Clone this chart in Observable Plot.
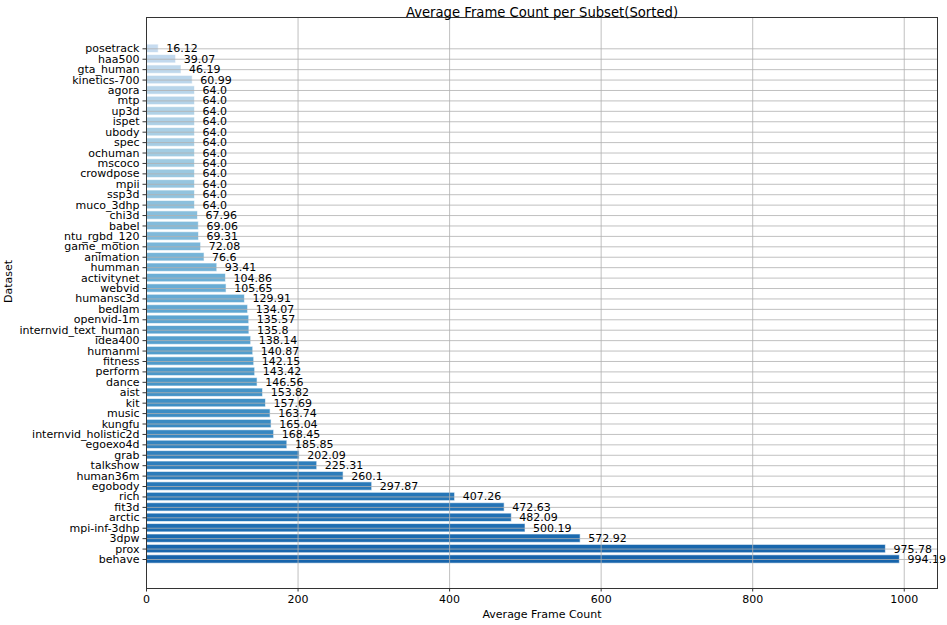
<!DOCTYPE html>
<html>
<head>
<meta charset="utf-8">
<script src="https://cdn.jsdelivr.net/npm/d3@7"></script>
<script src="https://cdn.jsdelivr.net/npm/@observablehq/plot@0.6"></script>
<style>
  html, body { margin: 0; padding: 0; background: #fff; }
  #chart svg { display: block; }
</style>
</head>
<body>
<div id="chart"></div>
<script>
const names = ["posetrack","haa500","gta_human","kinetics-700","agora","mtp","up3d","ispet","ubody","spec","ochuman","mscoco","crowdpose","mpii","ssp3d","muco_3dhp","chi3d","babel","ntu_rgbd_120","game_motion","animation","humman","activitynet","webvid","humansc3d","bedlam","openvid-1m","internvid_text_human","idea400","humanml","fitness","perform","dance","aist","kit","music","kungfu","internvid_holistic2d","egoexo4d","grab","talkshow","human36m","egobody","rich","fit3d","arctic","mpi-inf-3dhp","3dpw","prox","behave"];
const values = [16.12,39.07,46.19,60.99,64,64,64,64,64,64,64,64,64,64,64,64,67.96,69.06,69.31,72.08,76.6,93.41,104.86,105.65,129.91,134.07,135.57,135.8,138.14,140.87,142.15,143.42,146.56,153.82,157.69,163.74,165.04,168.45,185.85,202.09,225.31,260.1,297.87,407.26,472.63,482.09,500.19,572.92,975.78,994.19];
const xTicks = [0, 200, 400, 600, 800, 1000];
const title = "Average Frame Count per Subset(Sorted)";
const xLabel = "Average Frame Count";
const yLabel = "Dataset";

// matplotlib "Blues" colormap nodes
const blues = d3.piecewise(d3.interpolateRgb, ["#f7fbff","#deebf7","#c6dbef","#9ecae1","#6baed6","#4292c6","#2171b5","#08519c","#08306b"]);
const n = names.length;
const data = names.map((name, i) => ({
  name,
  value: values[i],
  color: blues(0.25 + (0.8 - 0.25) * i / (n - 1)),
  label: Number.isInteger(values[i]) ? values[i].toFixed(1) : String(values[i])
}));

const W = 947, H = 625;
const mL = 146, mR = 10, mT = 17, mB = 37;
const step = (559 - 48.3) / (n - 1);
const yRange = [48.3 - step / 2, 559 + step / 2];

const font = "DejaVu Sans, sans-serif";

const chart = Plot.plot({
  width: W,
  height: H,
  marginLeft: mL,
  marginRight: mR,
  marginTop: mT,
  marginBottom: mB,
  style: { fontFamily: font, fontSize: "11px", background: "#fff", color: "#000" },
  x: { domain: [0, 994.19 * 1.05], ticks: xTicks, tickFormat: d => String(d) },
  y: { domain: names, range: yRange, paddingInner: 0.2, paddingOuter: 0.1, round: false },
  marks: [
    Plot.barX(data, { x: "value", y: "name", fill: "color", stroke: "#ffffff", strokeOpacity: 0.6, strokeWidth: 1 }),
    Plot.gridX(xTicks, { stroke: "#b0b0b0", strokeOpacity: 0.8, strokeWidth: 1 }),
    Plot.gridY(names, { stroke: "#b0b0b0", strokeOpacity: 0.8, strokeWidth: 1 }),
    Plot.text(data, { x: d => d.value + 10, y: "name", text: "label", textAnchor: "start", fontSize: 11, fill: "#000" }),
    Plot.frame({ stroke: "#333", strokeWidth: 1 }),
    Plot.axisX(xTicks, { tickSize: 3.5, tickPadding: 3.5, fontSize: 11, label: null, stroke: "#333", tickFormat: d => String(d) }),
    Plot.axisY(names, { tickSize: 3.5, tickPadding: 3.5, fontSize: 11, label: null, stroke: "#333" }),
    Plot.text([title], { frameAnchor: "top", dy: -10, fontSize: 13.2, fill: "#000" }),
    Plot.text([xLabel], { frameAnchor: "bottom", dy: 29, fontSize: 11, fill: "#000" }),
    Plot.text([yLabel], { frameAnchor: "left", dx: -138, rotate: -90, fontSize: 11, fill: "#000" })
  ]
});
document.getElementById("chart").appendChild(chart);
</script>
</body>
</html>
